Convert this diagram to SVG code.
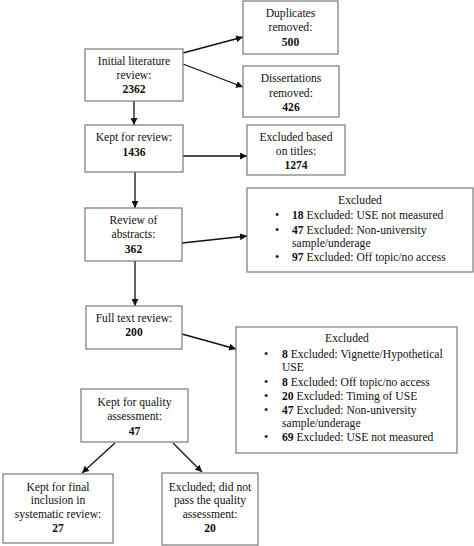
<svg xmlns="http://www.w3.org/2000/svg" width="474" height="546" viewBox="0 0 474 546">
<style>
rect{fill:#fff;stroke:#7a7a7a;stroke-width:1.2}
text{font-family:"Liberation Serif","Times New Roman",serif;font-size:11.6px;fill:#111}
.c{text-anchor:middle}
.b{font-weight:bold}
.d{font-size:12px}
#connectors line{stroke:#111;stroke-width:1.3;marker-end:url(#ah)}
</style>
<defs>
<marker id="ah" viewBox="0 0 10 10" refX="10" refY="5" markerWidth="7" markerHeight="7" markerUnits="userSpaceOnUse" orient="auto">
<path d="M0,0L10,5L0,10z" fill="#111"/>
</marker>
</defs>
<rect x="0" y="0" width="474" height="546" style="stroke:none"/>
<g id="connectors">
<line x1="183" y1="53" x2="243" y2="37"/>
<line x1="183" y1="64" x2="243" y2="87"/>
<line x1="134" y1="101" x2="134" y2="125"/>
<line x1="183" y1="156" x2="247" y2="156"/>
<line x1="135" y1="172" x2="135" y2="208"/>
<line x1="182" y1="243" x2="247" y2="236"/>
<line x1="135" y1="261" x2="135" y2="306"/>
<line x1="182" y1="334" x2="236" y2="349"/>
<line x1="115" y1="443" x2="82" y2="473"/>
<line x1="173" y1="443" x2="202" y2="472"/>
</g>
<g id="initial">
<rect x="85" y="49" width="98" height="52"/>
<text class="c" x="134" y="65">Initial literature</text>
<text class="c" x="134" y="79">review:</text>
<text class="c b" x="134" y="93">2362</text>
</g>
<g id="duplicates">
<rect x="243" y="1" width="95" height="53"/>
<text class="c" x="290.5" y="17">Duplicates</text>
<text class="c" x="290.5" y="31">removed:</text>
<text class="c b" x="290.5" y="46">500</text>
</g>
<g id="dissertations">
<rect x="243" y="66" width="96" height="51"/>
<text class="c" x="291" y="82">Dissertations</text>
<text class="c" x="291" y="97">removed:</text>
<text class="c b" x="291" y="111">426</text>
</g>
<g id="kept">
<rect x="85" y="125" width="98" height="47"/>
<text class="c" x="134" y="141">Kept for review:</text>
<text class="c b" x="134" y="156">1436</text>
</g>
<g id="titles">
<rect x="247" y="125" width="98" height="50"/>
<text class="c" x="296" y="141">Excluded based</text>
<text class="c" x="296" y="155">on titles:</text>
<text class="c b" x="296" y="169">1274</text>
</g>
<g id="abstracts">
<rect x="85" y="208" width="97" height="53"/>
<text class="c" x="133.5" y="224">Review of</text>
<text class="c" x="133.5" y="238">abstracts:</text>
<text class="c b" x="133.5" y="253">362</text>
</g>
<g id="excluded1">
<rect x="247" y="188" width="226" height="84"/>
<text class="c" x="360" y="204">Excluded</text>
<text class="d" x="275" y="219">•</text><text x="292" y="219"><tspan class="b">18</tspan> Excluded: USE not measured</text>
<text class="d" x="275" y="234">•</text><text x="292" y="234"><tspan class="b">47</tspan> Excluded: Non-university</text>
<text x="292" y="247">sample/underage</text>
<text class="d" x="275" y="261">•</text><text x="292" y="261"><tspan class="b">97</tspan> Excluded: Off topic/no access</text>
</g>
<g id="fulltext">
<rect x="86" y="306" width="96" height="43"/>
<text class="c" x="134" y="322">Full text review:</text>
<text class="c b" x="134" y="336">200</text>
</g>
<g id="excluded2">
<rect x="236" y="327" width="221" height="126"/>
<text class="c" x="347" y="342">Excluded</text>
<text class="d" x="264" y="358">•</text><text x="282" y="358"><tspan class="b">8</tspan> Excluded: Vignette/Hypothetical</text>
<text x="282" y="371">USE</text>
<text class="d" x="264" y="386">•</text><text x="282" y="386"><tspan class="b">8</tspan> Excluded: Off topic/no access</text>
<text class="d" x="264" y="400">•</text><text x="282" y="400"><tspan class="b">20</tspan> Excluded: Timing of USE</text>
<text class="d" x="264" y="413.5">•</text><text x="282" y="413.5"><tspan class="b">47</tspan> Excluded: Non-university</text>
<text x="282" y="427">sample/underage</text>
<text class="d" x="264" y="441">•</text><text x="282" y="441"><tspan class="b">69</tspan> Excluded: USE not measured</text>
</g>
<g id="quality">
<rect x="81" y="389" width="107" height="53"/>
<text class="c" x="134.5" y="406">Kept for quality</text>
<text class="c" x="134.5" y="420">assessment:</text>
<text class="c b" x="134.5" y="435">47</text>
</g>
<g id="final">
<rect x="3" y="474" width="110" height="69"/>
<text class="c" x="58" y="491">Kept for final</text>
<text class="c" x="58" y="504">inclusion in</text>
<text class="c" x="58" y="518">systematic review:</text>
<text class="c b" x="58" y="532">27</text>
</g>
<g id="excludedq">
<rect x="162" y="473" width="96" height="72"/>
<text class="c" x="210" y="491">Excluded; did not</text>
<text class="c" x="210" y="504">pass the quality</text>
<text class="c" x="210" y="518">assessment:</text>
<text class="c b" x="210" y="532">20</text>
</g>
</svg>
